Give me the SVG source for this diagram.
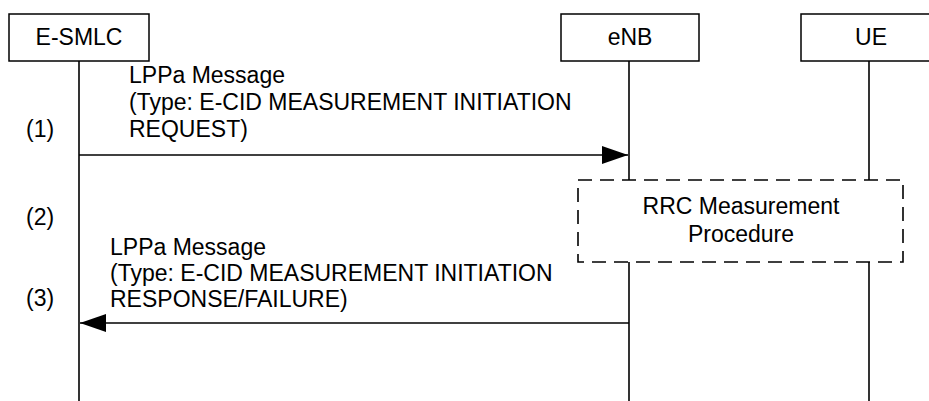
<svg xmlns="http://www.w3.org/2000/svg" width="929" height="401" viewBox="0 0 929 401">
<style>
text{font-family:"Liberation Sans",Arial,sans-serif;font-size:23px;fill:#000}
.box{fill:#fff;stroke:#000;stroke-width:1.5}
.life{stroke:#000;stroke-width:1.6;fill:none}
.msg{stroke:#000;stroke-width:1.6;fill:none}
.dash{fill:none;stroke:#000;stroke-width:1.6;stroke-dasharray:14 8}
.mid{text-anchor:middle}
</style>
<defs>
<marker id="ah" markerUnits="userSpaceOnUse" markerWidth="26" markerHeight="18" refX="26" refY="9" orient="auto">
<path d="M0,0 L26,9 L0,18 Z" fill="#000"/>
</marker>
</defs>
<g id="lifelines">
<line class="life" x1="79" y1="61" x2="79" y2="401" stroke-width="2"/>
<line class="life" x1="629" y1="61" x2="629" y2="180"/>
<line class="life" x1="629" y1="262" x2="629" y2="401"/>
<line class="life" x1="869" y1="61" x2="869" y2="180"/>
<line class="life" x1="869" y1="262" x2="869" y2="401"/>
</g>
<g id="esmlc">
<rect class="box" x="9" y="14" width="140" height="47"/>
<text class="mid" x="79" y="45">E-SMLC</text>
</g>
<g id="enb">
<rect class="box" x="561" y="14" width="138" height="47"/>
<text class="mid" x="630" y="45">eNB</text>
</g>
<g id="ue">
<rect class="box" x="801" y="14" width="140" height="47"/>
<text class="mid" x="871" y="45">UE</text>
</g>
<g id="rrc">
<rect class="dash" x="578" y="180" width="325" height="82"/>
<text class="mid" x="741" y="214">RRC Measurement</text>
<text class="mid" x="741" y="242">Procedure</text>
</g>
<g id="steps">
<text x="26" y="137">(1)</text>
<text x="26" y="225">(2)</text>
<text x="26" y="306">(3)</text>
</g>
<g id="connectors">
<line class="msg" x1="79" y1="155" x2="628" y2="155" marker-end="url(#ah)"/>
<line class="msg" x1="629" y1="323" x2="80" y2="323" marker-end="url(#ah)"/>
</g>
<g id="labels">
<text x="129" y="83">LPPa Message</text>
<text x="129" y="110">(Type: E-CID MEASUREMENT INITIATION</text>
<text x="129" y="137">REQUEST)</text>
<text x="110" y="255">LPPa Message</text>
<text x="110" y="281">(Type: E-CID MEASUREMENT INITIATION</text>
<text x="110" y="307">RESPONSE/FAILURE)</text>
</g>
</svg>
